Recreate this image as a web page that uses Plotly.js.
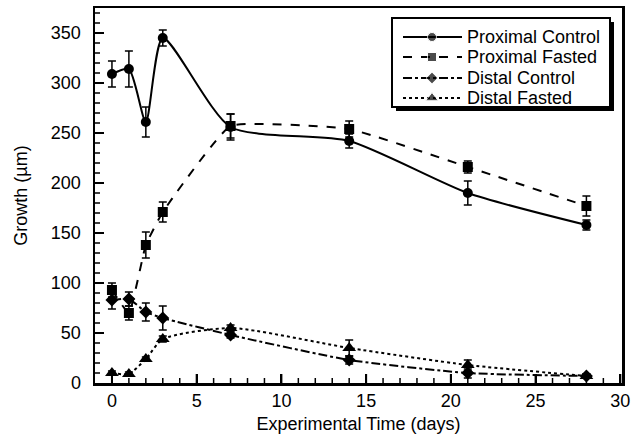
<!DOCTYPE html>
<html>
<head>
<meta charset="utf-8">
<script src="https://cdn.plot.ly/plotly-3.0.1.min.js"></script>
<style>html,body{margin:0;padding:0;background:#fff;}#chart{width:635px;height:435px;}</style>
</head>
<body>
<div id="chart"></div>
<script>
const days = [0, 1, 2, 3, 7, 14, 21, 28];

const proximalControl = [309, 314, 261, 345, 256, 242, 190, 158];
const proximalControlErr = [13, 18, 15, 8, 13, 7, 12, 5];

const proximalFasted = [93, 70, 138, 171, 257, 254, 216, 177];
const proximalFastedErr = [7, 7, 13, 10, 12, 8, 6, 10];

const distalControl = [83, 84, 71, 65, 48, 23, 10, 7];
const distalControlErr = [9, 7, 9, 12, 3, 4, 5, 2];

const distalFasted = [10, 9, 24, 44, 55, 35, 18, 7];
const distalFastedErr = [2, 2, 2, 3, 3, 8, 5, 2];

const seriesNames = ["Proximal Control", "Proximal Fasted", "Distal Control", "Distal Fasted"];
const seriesDash = ["solid", "dash", "dashdot", "dot"];
const seriesSymbol = ["circle", "square", "diamond", "triangle-up"];
const seriesSize = [10, 10, 10, 12];
const seriesSmoothing = [0.65, 0.35, 0.5, 0.6];

const FONT = "Liberation Sans, Arial, Helvetica, sans-serif";

const X_RANGE = [-1, 30.1];
const Y_RANGE = [0, 375];
const PLOT = {left: 95, right: 622, top: 8, bottom: 383};

const values = [proximalControl, proximalFasted, distalControl, distalFasted];
const errs = [proximalControlErr, proximalFastedErr, distalControlErr, distalFastedErr];

const data = values.map((y, i) => ({
  x: days, y: y, name: seriesNames[i], type: "scatter", mode: "lines+markers",
  showlegend: false,
  line: {color: "#000", width: 2, dash: seriesDash[i], shape: "spline", smoothing: seriesSmoothing[i]},
  marker: {color: "#000", symbol: seriesSymbol[i], size: seriesSize[i]},
  error_y: {type: "data", array: errs[i], visible: true, color: "#000", thickness: 1.5, width: 4}
}));

// Inside tick marks (axis decoration) on the pixel overlay axes, converted from axis units
function xToPx(d) { return PLOT.left + (d - X_RANGE[0]) * (PLOT.right - PLOT.left) / (X_RANGE[1] - X_RANGE[0]); }
function yToPx(v) { return PLOT.bottom - (v - Y_RANGE[0]) * (PLOT.bottom - PLOT.top) / (Y_RANGE[1] - Y_RANGE[0]); }
function tickTrace(major) {
  const tx = [], ty = [];
  for (let d = 0; d <= 30; d++) {
    if ((d % 5 === 0) !== major) continue;
    const p = xToPx(d);
    tx.push(p, p, null);
    ty.push(PLOT.bottom, PLOT.bottom - (major ? 9 : 5), null);
  }
  for (let v = 10; v <= 370; v += 10) {
    if ((v % 50 === 0) !== major) continue;
    const p = yToPx(v);
    tx.push(PLOT.left, PLOT.left + (major ? 9 : 5), null);
    ty.push(p, p, null);
  }
  return {x: tx, y: ty, xaxis: "x2", yaxis: "y2", type: "scatter", mode: "lines", showlegend: false,
          hoverinfo: "skip", connectgaps: false, line: {color: "#000", width: major ? 2 : 1.5}};
}
data.push(tickTrace(true), tickTrace(false));

// Custom legend drawn on the pixel overlay axes (layout geometry, not data)
const legBox = {x0: 392, x1: 610, y0: 18, y1: 107};
const legRowY = [37, 57, 78, 98];
const legLineX = [403, 432, 462];
const legTextX = 465;

const annotations = [];
legRowY.forEach((ry, i) => {
  data.push({
    x: legLineX, y: [ry, ry, ry], xaxis: "x2", yaxis: "y2", type: "scatter", mode: "lines+markers",
    showlegend: false, hoverinfo: "skip",
    line: {color: "#000", width: 2, dash: seriesDash[i]},
    marker: {color: "#000", symbol: seriesSymbol[i], size: [0, seriesSize[i] - 1, 0]}
  });
  annotations.push({
    xref: "x2", yref: "y2", x: legTextX, y: ry, xanchor: "left", yanchor: "middle",
    text: seriesNames[i], showarrow: false, font: {family: FONT, size: 18, color: "#000"}
  });
});

const shapes = [
  {type: "rect", xref: "x2", yref: "y2", x0: legBox.x0 + 4, x1: legBox.x1 + 4, y0: legBox.y0 + 4, y1: legBox.y1 + 4,
   fillcolor: "#000", line: {width: 0}, layer: "below"},
  {type: "rect", xref: "x2", yref: "y2", x0: legBox.x0, x1: legBox.x1, y0: legBox.y0, y1: legBox.y1,
   fillcolor: "#fff", line: {width: 2, color: "#000"}, layer: "below"}
];

const layout = {
  width: 635, height: 435,
  margin: {l: PLOT.left, r: 635 - PLOT.right, t: PLOT.top, b: 435 - PLOT.bottom},
  paper_bgcolor: "#fff", plot_bgcolor: "#fff",
  font: {family: FONT, size: 18, color: "#000"},
  showlegend: false,
  xaxis: {
    range: X_RANGE, tick0: 0, dtick: 5,
    ticks: "inside", ticklen: 9, tickwidth: 2, tickcolor: "#000",
    showgrid: false, zeroline: false,
    showline: true, linecolor: "#000", linewidth: 2.5, mirror: true,
    tickfont: {family: FONT, size: 18},
    title: {text: "Experimental Time (days)", font: {family: FONT, size: 18}, standoff: 8}
  },
  yaxis: {
    range: Y_RANGE, tick0: 0, dtick: 50,
    ticks: "inside", ticklen: 9, tickwidth: 2, tickcolor: "#000",
    showgrid: false, zeroline: false,
    showline: true, linecolor: "#000", linewidth: 2.5, mirror: true,
    ticklabelstandoff: 8,
    tickfont: {family: FONT, size: 18},
    title: {text: "Growth (µm)", font: {family: FONT, size: 18}, standoff: 19}
  },
  xaxis2: {overlaying: "x", range: [PLOT.left, PLOT.right], visible: false, fixedrange: true},
  yaxis2: {overlaying: "y", range: [PLOT.bottom, PLOT.top], visible: false, fixedrange: true},
  annotations: annotations,
  shapes: shapes
};

Plotly.newPlot("chart", data, layout, {displayModeBar: false, staticPlot: true});
</script>
</body>
</html>
